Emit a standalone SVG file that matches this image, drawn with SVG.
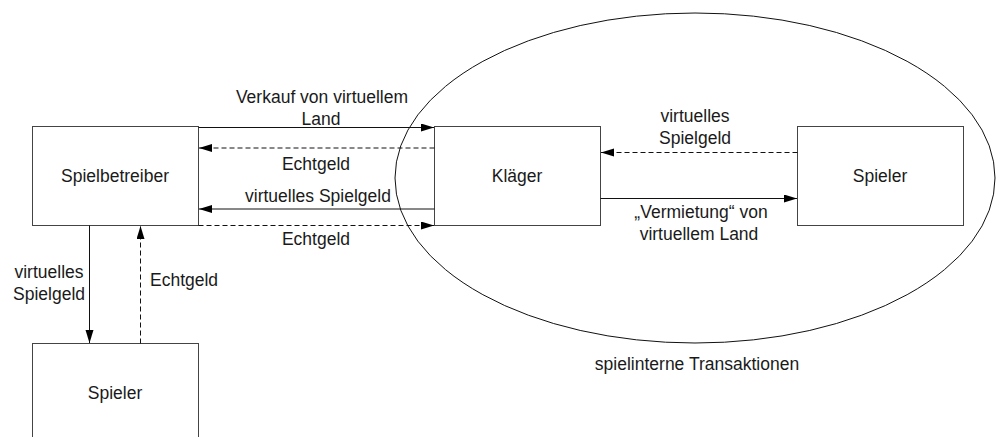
<svg xmlns="http://www.w3.org/2000/svg" width="996" height="437" viewBox="0 0 996 437">
<style>
.box{fill:#fff;stroke:#444;stroke-width:1}
.ln{fill:none;stroke:#111;stroke-width:1}
.dash{stroke-dasharray:5,3}
text{font-family:"Liberation Sans",Arial,sans-serif;font-size:17.5px;fill:#1a1a1a;text-anchor:middle}
.st{text-anchor:start}
</style>
<defs>
<marker id="ah" markerUnits="userSpaceOnUse" markerWidth="14" markerHeight="9" refX="13" refY="4" orient="auto" viewBox="0 0 14 9">
<path d="M0,0 L13,4 L0,8 Z" fill="#000"/>
</marker>
</defs>
<rect width="996" height="437" fill="#fff"/>
<g id="bereich">
<ellipse cx="695" cy="178" rx="300" ry="165" fill="none" stroke="#111" stroke-width="1"/>
<text x="697" y="370">spielinterne Transaktionen</text>
</g>
<g id="spielbetreiber">
<rect class="box" x="32.5" y="126.5" width="166" height="99"/>
<text x="115" y="182">Spielbetreiber</text>
</g>
<g id="klaeger">
<rect class="box" x="434.5" y="126.5" width="166" height="99"/>
<text x="517" y="182">Kläger</text>
</g>
<g id="spieler-rechts">
<rect class="box" x="797.5" y="126.5" width="166" height="99"/>
<text x="880" y="182">Spieler</text>
</g>
<g id="spieler-unten">
<rect class="box" x="32.5" y="343.5" width="166" height="100"/>
<text x="115" y="399">Spieler</text>
</g>
<g id="connectors">
<path class="ln" d="M198.5,127.5 H434" marker-end="url(#ah)"/>
<path class="ln dash" d="M434.5,148 H199" marker-end="url(#ah)"/>
<path class="ln" d="M434.5,209 H199" marker-end="url(#ah)"/>
<path class="ln dash" d="M198.5,225.5 H434" marker-end="url(#ah)"/>
<path class="ln dash" d="M797.5,152.5 H601" marker-end="url(#ah)"/>
<path class="ln" d="M600.5,198.5 H797" marker-end="url(#ah)"/>
<path class="ln" d="M89.5,225.5 V343" marker-end="url(#ah)"/>
<path class="ln dash" d="M140.5,343.5 V226" marker-end="url(#ah)"/>
<text x="322" y="103">Verkauf von virtuellem</text>
<text x="321" y="124.5">Land</text>
<text x="316" y="169.5">Echtgeld</text>
<text x="318" y="202">virtuelles Spielgeld</text>
<text x="316" y="245">Echtgeld</text>
<text x="695" y="122">virtuelles</text>
<text x="695" y="143.5">Spielgeld</text>
<text x="701" y="218">„Vermietung“ von</text>
<text x="699" y="239.5">virtuellem Land</text>
<text x="49" y="278">virtuelles</text>
<text x="49" y="299.5">Spielgeld</text>
<text class="st" x="150" y="286">Echtgeld</text>
</g>
</svg>
